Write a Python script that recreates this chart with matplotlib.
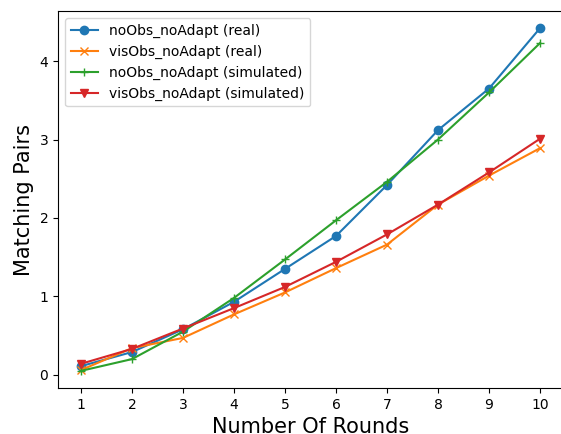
import numpy as np
import matplotlib
matplotlib.use("Agg")
import matplotlib.pyplot as plt

rounds = [1, 2, 3, 4, 5, 6, 7, 8, 9, 10]
noobs_real = [0.11, 0.29, 0.58, 0.93, 1.35, 1.77, 2.42, 3.12, 3.65, 4.42]
visobs_real = [0.06, 0.34, 0.47, 0.77, 1.05, 1.36, 1.66, 2.17, 2.54, 2.89]
noobs_sim = [0.05, 0.20, 0.55, 0.98, 1.47, 1.97, 2.46, 3.00, 3.60, 4.23]
visobs_sim = [0.14, 0.33, 0.59, 0.85, 1.12, 1.44, 1.79, 2.17, 2.58, 3.01]

fig = plt.figure(figsize=(5.61, 4.34), dpi=100)
# the reference is cropped at the right, the right spine is not shown
ax = fig.add_axes([58/561, 46/434, 505/561, 377/434])
ax.spines['right'].set_visible(False)

ax.plot(rounds, noobs_real, marker='o', label='noObs_noAdapt (real)')
ax.plot(rounds, visobs_real, marker='x', label='visObs_noAdapt (real)')
ax.plot(rounds, noobs_sim, marker='+', label='noObs_noAdapt (simulated)')
ax.plot(rounds, visobs_sim, marker='v', label='visObs_noAdapt (simulated)')

ax.set_xticks(rounds)
ax.set_xlabel('Number Of Rounds', fontsize=15)
ax.set_ylabel('Matching Pairs', fontsize=15)
ax.legend(loc='upper left')

fig.savefig('out.png', dpi=100)
